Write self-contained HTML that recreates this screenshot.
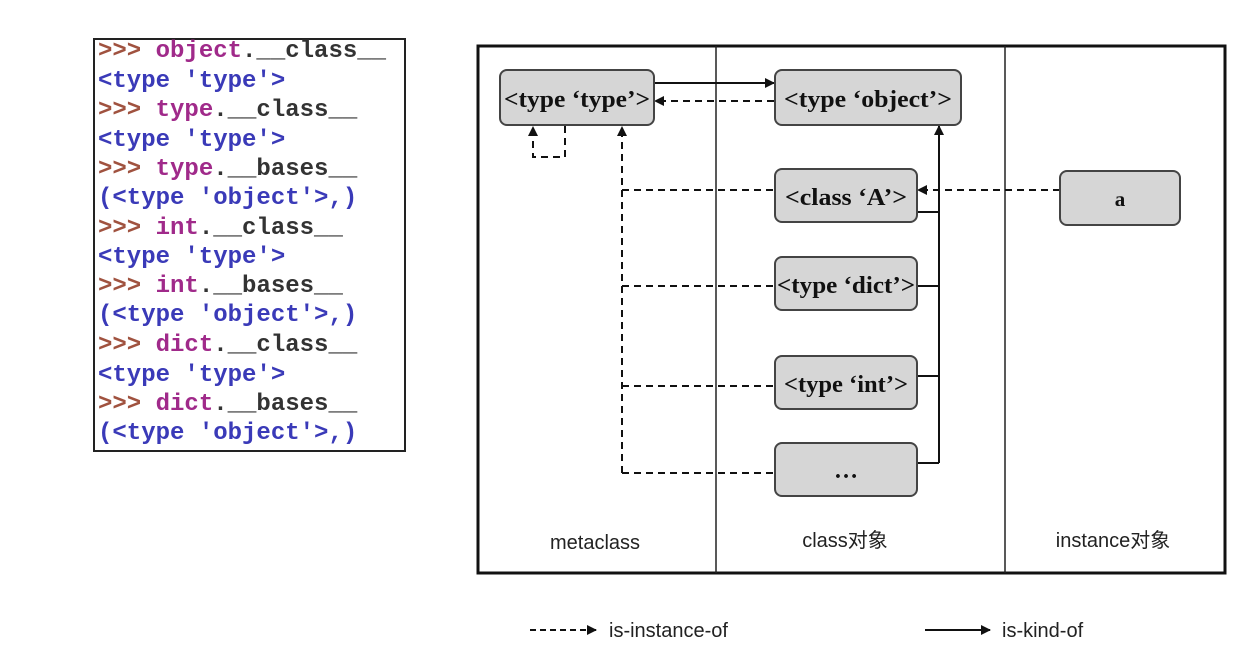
<!DOCTYPE html>
<html><head><meta charset="utf-8"><style>
html,body{margin:0;padding:0;background:#fff;width:1244px;height:654px;overflow:hidden}
</style></head><body>
<svg width="1244" height="654" xmlns="http://www.w3.org/2000/svg">
<defs>
<marker id="ah" markerWidth="10" markerHeight="10" refX="9" refY="5" orient="auto" markerUnits="userSpaceOnUse">
<path d="M0,0 L10,5 L0,10 z" fill="#111"/></marker>
</defs>
<rect x="94" y="39" width="311" height="412" fill="#fff" stroke="#222" stroke-width="2"/>
<g font-family="Liberation Mono, monospace" font-size="24" font-weight="bold">
<text x="98" y="57"><tspan fill="#a0523f">&gt;&gt;&gt; </tspan><tspan fill="#a02a8a">object</tspan><tspan fill="#333">.__class__</tspan></text>
<text x="98" y="87" fill="#3a3ab8">&lt;type 'type'&gt;</text>
<text x="98" y="116"><tspan fill="#a0523f">&gt;&gt;&gt; </tspan><tspan fill="#a02a8a">type</tspan><tspan fill="#333">.__class__</tspan></text>
<text x="98" y="146" fill="#3a3ab8">&lt;type 'type'&gt;</text>
<text x="98" y="175"><tspan fill="#a0523f">&gt;&gt;&gt; </tspan><tspan fill="#a02a8a">type</tspan><tspan fill="#333">.__bases__</tspan></text>
<text x="98" y="204" fill="#3a3ab8">(&lt;type 'object'&gt;,)</text>
<text x="98" y="234"><tspan fill="#a0523f">&gt;&gt;&gt; </tspan><tspan fill="#a02a8a">int</tspan><tspan fill="#333">.__class__</tspan></text>
<text x="98" y="263" fill="#3a3ab8">&lt;type 'type'&gt;</text>
<text x="98" y="292"><tspan fill="#a0523f">&gt;&gt;&gt; </tspan><tspan fill="#a02a8a">int</tspan><tspan fill="#333">.__bases__</tspan></text>
<text x="98" y="321" fill="#3a3ab8">(&lt;type 'object'&gt;,)</text>
<text x="98" y="351"><tspan fill="#a0523f">&gt;&gt;&gt; </tspan><tspan fill="#a02a8a">dict</tspan><tspan fill="#333">.__class__</tspan></text>
<text x="98" y="381" fill="#3a3ab8">&lt;type 'type'&gt;</text>
<text x="98" y="410"><tspan fill="#a0523f">&gt;&gt;&gt; </tspan><tspan fill="#a02a8a">dict</tspan><tspan fill="#333">.__bases__</tspan></text>
<text x="98" y="439" fill="#3a3ab8">(&lt;type 'object'&gt;,)</text>
</g>
<rect x="478" y="46" width="747" height="527" fill="none" stroke="#111" stroke-width="3"/>
<line x1="716" y1="46" x2="716" y2="573" stroke="#222" stroke-width="1.5"/>
<line x1="1005" y1="46" x2="1005" y2="573" stroke="#222" stroke-width="1.5"/>
<g stroke="#111" stroke-width="2" fill="none">
<line x1="654" y1="83" x2="774" y2="83" marker-end="url(#ah)"/>
<line x1="939" y1="463" x2="939" y2="126" marker-end="url(#ah)"/>
<line x1="917" y1="212" x2="939" y2="212"/>
<line x1="917" y1="286" x2="939" y2="286"/>
<line x1="917" y1="376" x2="939" y2="376"/>
<line x1="917" y1="463" x2="939" y2="463"/>
</g>
<g stroke="#111" stroke-width="2" fill="none" stroke-dasharray="7,5">
<line x1="774" y1="101" x2="655" y2="101" marker-end="url(#ah)"/>
<polyline points="565,126 565,157 533,157 533,127" marker-end="url(#ah)"/>
<line x1="622" y1="473" x2="622" y2="127" marker-end="url(#ah)"/>
<line x1="622" y1="190" x2="774" y2="190"/>
<line x1="622" y1="286" x2="774" y2="286"/>
<line x1="622" y1="386" x2="774" y2="386"/>
<line x1="622" y1="473" x2="774" y2="473"/>
<line x1="1060" y1="190" x2="918" y2="190" marker-end="url(#ah)"/>
</g>
<g fill="#d6d6d6" stroke="#444" stroke-width="2">
<rect x="500" y="70" width="154" height="55" rx="7"/>
<rect x="775" y="70" width="186" height="55" rx="7"/>
<rect x="775" y="169" width="142" height="53" rx="7"/>
<rect x="775" y="257" width="142" height="53" rx="7"/>
<rect x="775" y="356" width="142" height="53" rx="7"/>
<rect x="775" y="443" width="142" height="53" rx="7"/>
<rect x="1060" y="171" width="120" height="54" rx="7"/>
</g>
<g font-family="Liberation Serif, serif" font-weight="bold" font-size="24" fill="#111" text-anchor="middle">
<text x="577" y="107" textLength="146" lengthAdjust="spacingAndGlyphs">&lt;type ‘type’&gt;</text>
<text x="868" y="107" textLength="168" lengthAdjust="spacingAndGlyphs">&lt;type ‘object’&gt;</text>
<text x="846" y="205" textLength="122" lengthAdjust="spacingAndGlyphs">&lt;class ‘A’&gt;</text>
<text x="846" y="293" textLength="138" lengthAdjust="spacingAndGlyphs">&lt;type ‘dict’&gt;</text>
<text x="846" y="392" textLength="124" lengthAdjust="spacingAndGlyphs">&lt;type ‘int’&gt;</text>
<text x="846" y="478">…</text>
<text x="1120" y="206" font-size="21">a</text>
</g>
<g font-family="Liberation Sans, 'Noto Sans CJK SC', sans-serif" font-size="20" fill="#222" text-anchor="middle">
<text x="595" y="549">metaclass</text>
<text x="845" y="547">class对象</text>
<text x="1113" y="547">instance对象</text>
</g>
<line x1="530" y1="630" x2="596" y2="630" stroke="#111" stroke-width="2" stroke-dasharray="6,4" marker-end="url(#ah)"/>
<line x1="925" y1="630" x2="990" y2="630" stroke="#111" stroke-width="2" marker-end="url(#ah)"/>
<g font-family="Liberation Sans, sans-serif" font-size="20" fill="#222">
<text x="609" y="637">is-instance-of</text>
<text x="1002" y="637">is-kind-of</text>
</g>
</svg>
</body></html>
